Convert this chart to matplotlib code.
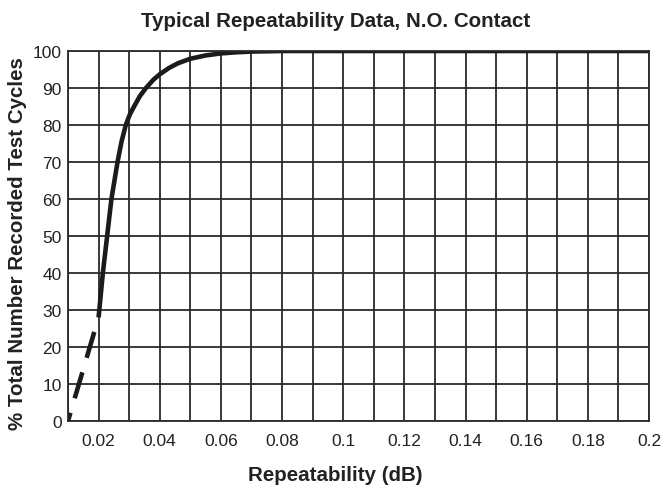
import matplotlib.pyplot as plt
from matplotlib.ticker import MultipleLocator, FixedLocator

plt.rcParams['font.family'] = ['Liberation Sans', 'DejaVu Sans']

# dashed (extrapolated) part and measured part of the curve
dash_x = [0.0200, 0.0100]
dash_y = [28, 0]
solid_x = [0.0200, 0.0214, 0.0228, 0.0242, 0.0262, 0.0275, 0.0289, 0.0302, 0.0316,
           0.0335, 0.0355, 0.0380, 0.0400, 0.0430, 0.0460, 0.0500, 0.0550, 0.0600,
           0.0650, 0.0700, 0.0800, 0.1000, 0.2000]
solid_y = [28, 40, 50, 60, 70, 75.5, 80, 82.8, 85,
           87.8, 90, 92.3, 93.7, 95.4, 96.7, 97.9, 98.8, 99.35,
           99.65, 99.85, 100, 100, 100]

x_ticks = [0.02, 0.04, 0.06, 0.08, 0.1, 0.12, 0.14, 0.16, 0.18, 0.2]
x_labels = ['0.02', '0.04', '0.06', '0.08', '0.1', '0.12', '0.14', '0.16', '0.18', '0.2']

fig = plt.figure(figsize=(6.65, 4.89), dpi=100)
ax = fig.add_axes([68 / 665, 1 - 422 / 489, 581 / 665, 370 / 489])

ax.plot(dash_x, dash_y, color='#1c1a1a', lw=3.3, linestyle=(5.9, (5.9, 3.3)),
        dash_capstyle='butt')
ax.plot(solid_x, solid_y, color='#1c1a1a', lw=3.3, solid_capstyle='butt',
        solid_joinstyle='round')

ax.set_xlim(0.01, 0.2)
ax.set_ylim(0, 100)
ax.xaxis.set_major_locator(FixedLocator(x_ticks))
ax.set_xticklabels(x_labels)
ax.xaxis.set_minor_locator(MultipleLocator(0.01))
ax.yaxis.set_major_locator(MultipleLocator(10))
ax.grid(True, which='both', color='#2a2a2a', lw=1.3)
ax.tick_params(which='both', length=0, labelsize=12.5, colors='#222222')
ax.tick_params(axis='x', pad=9)
ax.tick_params(axis='y', pad=4.5)
for s in ax.spines.values():
    s.set_color('#2a2a2a')
    s.set_linewidth(1.3)

ax.set_xlabel('Repeatability (dB)', fontsize=14.8, fontweight='bold', labelpad=12, color='#222222')
ax.set_ylabel('% Total Number Recorded Test Cycles', fontsize=14.8, fontweight='bold', labelpad=4, color='#222222')
ax.set_title('Typical Repeatability Data, N.O. Contact', fontsize=14.8, fontweight='bold', pad=18, color='#222222')
# labels are centred on the figure rather than on the plot area
ax.title.set_x(0.461)
ax.xaxis.label.set_x(0.46)
ax.yaxis.label.set_y(0.481)

fig.savefig('out.png', dpi=100)
